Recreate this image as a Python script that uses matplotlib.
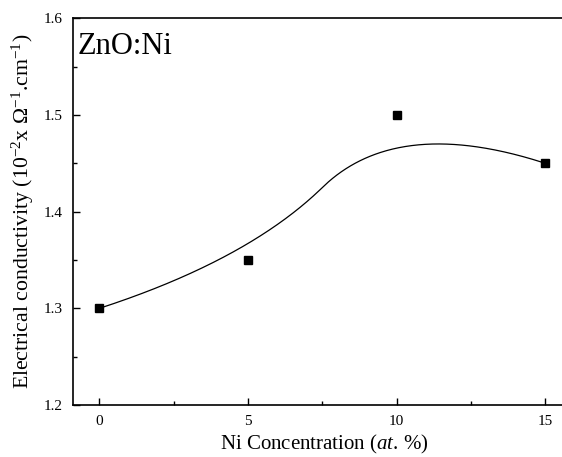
import numpy as np
import matplotlib
matplotlib.use("Agg")
import matplotlib.pyplot as plt

# data
ni_conc = [0, 5, 10, 15]
conductivity = [1.30, 1.35, 1.50, 1.45]

x_ticks = [0, 5, 10, 15]
y_ticks = [1.2, 1.3, 1.4, 1.5, 1.6]

plt.rcParams["font.family"] = ["Liberation Serif", "DejaVu Serif"]
plt.rcParams["mathtext.fontset"] = "custom"
plt.rcParams["mathtext.rm"] = "Liberation Serif"
plt.rcParams["mathtext.it"] = "Liberation Serif:italic"


def bspline2(px, py, n=300):
    # clamped quadratic B-spline with the data points as control points
    px = np.asarray(px, float)
    py = np.asarray(py, float)
    mids_x = (px[1:-1][:-1] + px[1:-1][1:]) / 2
    mids_y = (py[1:-1][:-1] + py[1:-1][1:]) / 2
    starts = [(px[0], py[0])] + list(zip(mids_x, mids_y))
    ends = list(zip(mids_x, mids_y)) + [(px[-1], py[-1])]
    xs, ys = [], []
    s = np.linspace(0, 1, n)
    for k in range(len(starts)):
        c = (px[k + 1], py[k + 1])
        a, b = starts[k], ends[k]
        xs.append((1 - s) ** 2 * a[0] + 2 * s * (1 - s) * c[0] + s ** 2 * b[0])
        ys.append((1 - s) ** 2 * a[1] + 2 * s * (1 - s) * c[1] + s ** 2 * b[1])
    return np.concatenate(xs), np.concatenate(ys)


fig = plt.figure(figsize=(5.62, 4.57), dpi=100)
ax = fig.add_axes([0.1294, 0.1138, 0.8938, 0.8462])

cx, cy = bspline2(ni_conc, conductivity)
ax.plot(cx, cy, color="black", lw=0.9)
ax.plot(ni_conc, conductivity, "s", color="black", ms=6)

ax.set_xlim(-0.9, 16)
ax.set_ylim(1.2, 1.6)
ax.set_xticks(x_ticks)
ax.set_yticks(y_ticks)
ax.set_yticklabels([f"{v:.1f}" for v in y_ticks])
ax.set_xticks([2.5, 7.5, 12.5], minor=True)
ax.set_yticks([1.25, 1.35, 1.45, 1.55], minor=True)
ax.tick_params(which="major", direction="in", length=5, width=1,
               labelsize=11, pad=7)
ax.tick_params(which="minor", direction="in", length=3, width=1)
for sp in ax.spines.values():
    sp.set_linewidth(1.2)

ax.set_xlabel("Ni Concentration ($\\it{at}$. %)", fontsize=15, labelpad=4)
ax.set_ylabel("Electrical conductivity (10$^{-2}$x \u03a9$^{-1}$.cm$^{-1}$)",
              fontsize=15.7, labelpad=6)
ax.text(0.01, 0.965, "ZnO:Ni", transform=ax.transAxes, fontsize=22,
        ha="left", va="top")

fig.savefig("out.png", dpi=100)
